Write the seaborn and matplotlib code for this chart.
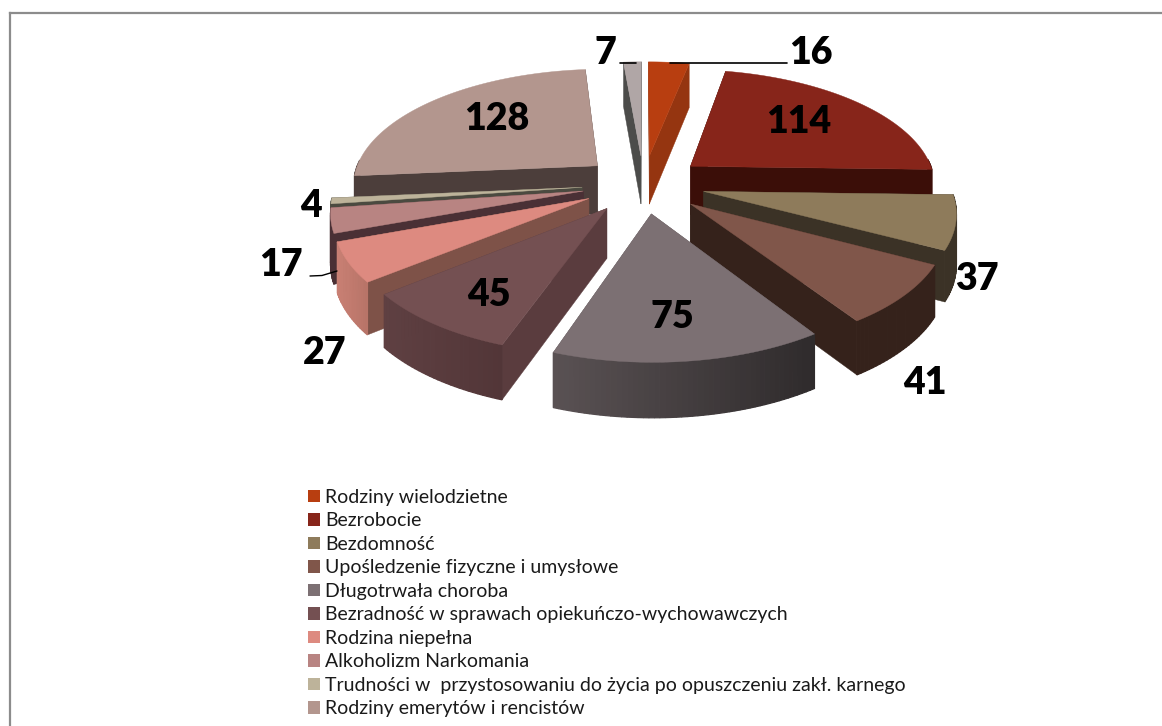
"""
Exploded 3D pie of family support reasons
"""
import numpy as np
import matplotlib.pyplot as plt
from matplotlib.colors import to_rgb
from matplotlib.patches import Patch
import seaborn as sns

## Data, clockwise from 12 o'clock
slice_values = [16, 114, 37, 41, 75, 45, 27, 17, 4, 128, 7]
legend_labels = [
    'Rodziny wielodzietne',
    'Bezrobocie',
    'Bezdomność',
    'Upośledzenie fizyczne i umysłowe',
    'Długotrwała choroba',
    'Bezradność w sprawach opiekuńczo-wychowawczych',
    'Rodzina niepełna',
    'Alkoholizm Narkomania',
    'Trudności w  przystosowaniu do życia po opuszczeniu zakł. karnego',
    'Rodziny emerytów i rencistów',
]

## Colours
top_colors = ['#B83E10', '#87251A', '#8E7B5B', '#80564A', '#7C7073', '#745052',
              '#DD8A80', '#B88482', '#BDB39A', '#B3968E', '#B0A6A6']
side_colors = ['#953510', '#3B0E08', '#3B3226', '#35221B', '#5A5254', '#5A3C3E',
               '#7E5248', '#4A3035', '#4B4A40', '#4C3E3B', '#4C4C4A']
wall_left = ['#953510', '#3B0E08', '#3B3226', '#35221B', '#5A5254', '#5F4042',
             '#C98074', '#4A3035', '#4B4A40', '#4C3E3B', '#4C4C4A']
wall_right = ['#953510', '#3B0E08', '#3B3226', '#35221B', '#2F2B2C', '#523638',
              '#B87468', '#4A3035', '#4B4A40', '#4C3E3B', '#4C4C4A']

## Label positions in pixels, same order as slice_values
label_x = [811, 799, 977, 925, 672, 489, 325, 281, 311, 497, 605]
label_y = [53, 122, 279, 383, 317, 295, 353, 265, 206, 119, 53]

## View of the pie
center_x, center_y = 643.5, 184
radius = 246
tilt = 0.472
perspective = 0.15
explode = 0.25
depth = 49

W, H = 1162, 726

sns.set_theme(style='white')
plt.rcParams['font.family'] = ['Lato', 'DejaVu Sans']


def project(x, y):
    """
    Ground plane to screen pixels, with the near side larger
    """
    s = 1 / (1 + perspective * y)
    return center_x + radius * x * s, center_y - radius * tilt * y * s, s


def wall_drop(s):
    return depth * s ** 0.6


def mix(c1, c2, t):
    c1, c2 = np.array(to_rgb(c1)), np.array(to_rgb(c2))
    return tuple(c1 + (c2 - c1) * t)


def draw_slice(ax, start, end, i):
    """
    Radial walls, then outer wall, then the top face
    """
    mid = (start + end) / 2
    ox, oy = explode * np.sin(mid), explode * np.cos(mid)
    theta = np.linspace(start, end, max(int(np.degrees(end - start)), 3))
    tx, ty, ts = project(ox, oy)
    arc_x, arc_y, arc_s = project(ox + np.sin(theta), oy + np.cos(theta))
    drop = wall_drop(arc_s)
    tip_drop = wall_drop(ts)

    for k in [0, -1]:
        ax.fill([tx, arc_x[k], arc_x[k], tx],
                [ty, arc_y[k], arc_y[k] + drop[k], ty + tip_drop],
                color=side_colors[i], lw=0.3)

    # outer wall in strips so the shading can run across it
    span = arc_x.max() - arc_x.min()
    for k in range(len(theta) - 1):
        if np.cos(theta[k]) > 0.05 and np.cos(theta[k + 1]) > 0.05:
            continue
        t = (arc_x[k] - arc_x.min()) / span
        ax.fill([arc_x[k], arc_x[k + 1], arc_x[k + 1], arc_x[k]],
                [arc_y[k], arc_y[k + 1], arc_y[k + 1] + drop[k + 1], arc_y[k] + drop[k]],
                color=mix(wall_left[i], wall_right[i], t), lw=0.9)

    ax.fill(np.r_[tx, arc_x], np.r_[ty, arc_y], color=top_colors[i], lw=0.3)


fig = plt.figure(figsize=(W / 100, H / 100), dpi=100)
ax = fig.add_axes([0, 0, 1, 1])
ax.set_xlim(0, W)
ax.set_ylim(H, 0)
ax.axis('off')

# frame of the pasted chart, runs off the right and bottom
ax.plot([9.5, 9.5], [H, 13], color='#8C8C8C', lw=1.6, solid_capstyle='projecting')
ax.plot([9.5, W], [13, 13], color='#8C8C8C', lw=1.6, solid_capstyle='projecting')

# angles from values, painted back to front
angles = np.r_[0, np.cumsum(slice_values)] / np.sum(slice_values) * 2 * np.pi
order = sorted(range(len(slice_values)),
               key=lambda i: -np.cos((angles[i] + angles[i + 1]) / 2))
for i in order:
    draw_slice(ax, angles[i], angles[i + 1], i)

# leader lines
ax.plot([670, 787], [62.5, 62.5], color='black', lw=1.2)
ax.plot([620, 636], [62.5, 62.5], color='black', lw=1.2)
ax.plot([310, 322, 337], [276, 275.5, 271], color='black', lw=1)

for v, x, y in zip(slice_values, label_x, label_y):
    ax.text(x, y, str(v), fontsize=27, fontweight='heavy', color='black',
            ha='center', va='center')

handles = [Patch(color=c, lw=0) for c in top_colors[:len(legend_labels)]]
ax.legend(handles, legend_labels, loc='upper left', bbox_to_anchor=(308, 489),
          bbox_transform=ax.transData, frameon=False, fontsize=14,
          handlelength=0.62, handleheight=0.62, handletextpad=0.25,
          labelspacing=0.334, borderpad=0, borderaxespad=0, labelcolor='#1a1a1a')

plt.savefig('out.png', dpi=100)
